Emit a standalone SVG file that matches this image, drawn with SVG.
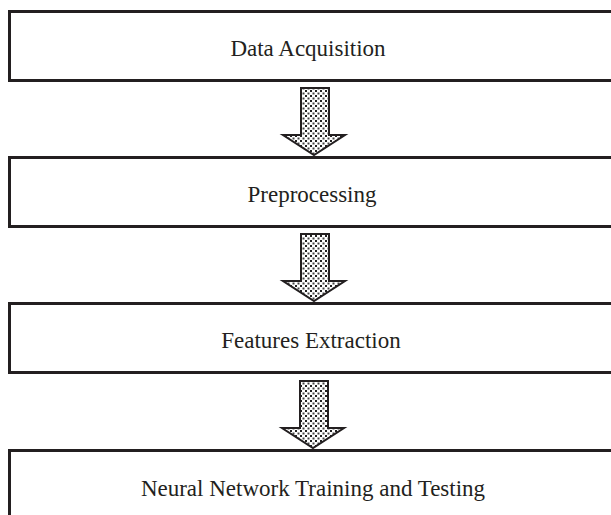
<svg xmlns="http://www.w3.org/2000/svg" width="611" height="515" viewBox="0 0 611 515">
<style>
.box{fill:#fff;stroke:#231f20;stroke-width:3}
.lbl{font-family:"Liberation Serif","Times New Roman",serif;font-size:23px;fill:#231f20;text-anchor:middle}
.arr{fill:url(#chk);stroke:#231f20;stroke-width:2;stroke-linejoin:miter}
</style>
<defs>
<pattern id="chk" width="5" height="5" patternUnits="userSpaceOnUse">
<rect width="5" height="5" fill="#fff"/>
<rect x="0" y="0" width="2" height="2" fill="#222"/>
<rect x="2.5" y="2.5" width="2" height="2" fill="#444"/>
</pattern>
</defs>
<rect width="611" height="515" fill="#fff"/>
<g id="node1"><rect class="box" x="9.5" y="11.5" width="620" height="69"/><text class="lbl" x="308" y="56">Data Acquisition</text></g>
<g id="node2"><rect class="box" x="9.5" y="157.5" width="620" height="69"/><text class="lbl" x="312" y="202">Preprocessing</text></g>
<g id="node3"><rect class="box" x="9.5" y="303.5" width="620" height="69"/><text class="lbl" x="311" y="348">Features Extraction</text></g>
<g id="node4"><rect class="box" x="9.5" y="450.5" width="620" height="80"/><text class="lbl" x="313" y="496">Neural Network Training and Testing</text></g>
<g id="connectors">
<path class="arr" d="M301,88 L329,88 L329,135 L345,135 L314,155 L283,135 L301,135 Z"/>
<path class="arr" d="M301,234 L329,234 L329,281 L345,281 L314,301 L283,281 L301,281 Z"/>
<path class="arr" d="M300,381 L328,381 L328,428 L344,428 L313,448 L282,428 L300,428 Z"/>
</g>
</svg>
